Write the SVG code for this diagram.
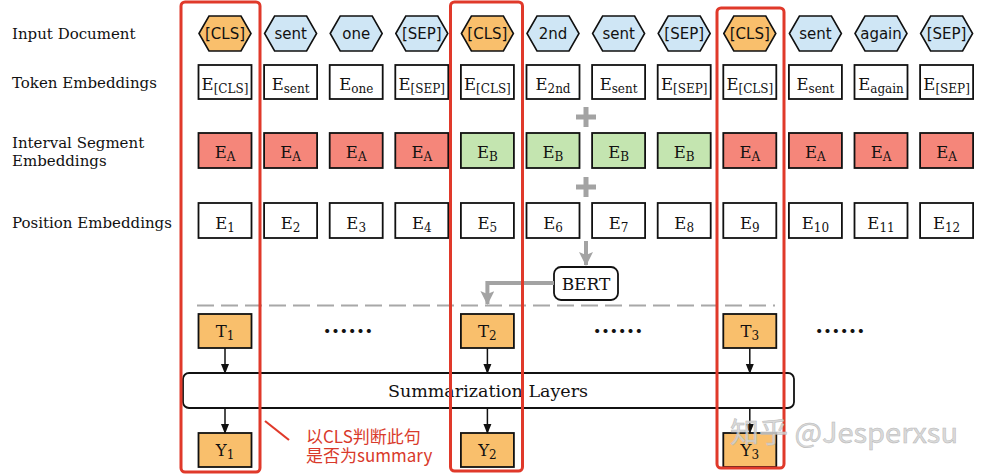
<svg xmlns="http://www.w3.org/2000/svg" width="984" height="476" viewBox="0 0 984 476">
<style>
.lbl{font-family:"DejaVu Serif",serif;font-size:15px;fill:#111}
.hx{stroke:#111;stroke-width:1.6}
.blue{fill:#cfe6f5}.org{fill:#f9bf6c}
.ht{font-family:"DejaVu Sans",sans-serif;font-size:15px;fill:#111;text-anchor:middle}
.bx{stroke:#111;stroke-width:1.8}
.w{fill:#fff}.ea{fill:#f5867a}.eb{fill:#c4e5b0}
.et{font-family:"DejaVu Serif",serif;font-size:16.5px;fill:#111;text-anchor:middle}
.sub{font-size:12px}
.frame{fill:none;stroke:#e0392a;stroke-width:3}
.gray{stroke:#a3a3a3;stroke-width:4;fill:none}
.blk{stroke:#111;stroke-width:1.5;fill:none}
.dots{font-family:"Noto Sans CJK SC",sans-serif;font-size:25px;font-weight:bold;fill:#111;text-anchor:middle}
</style>
<defs>
<marker id="ab" markerUnits="userSpaceOnUse" markerWidth="10" markerHeight="10" viewBox="0 0 10 10" refX="9" refY="5" orient="auto"><path d="M0,1 L10,5 L0,9 Z" fill="#111"/></marker>
<marker id="ag" markerUnits="userSpaceOnUse" markerWidth="14" markerHeight="14" viewBox="0 0 14 14" refX="13" refY="7" orient="auto"><path d="M0,0 L14,7 L0,14 L3,7 Z" fill="#a3a3a3"/></marker>
<path id="hex" d="M-26,0 L-16,-17.5 L16,-17.5 L26,0 L16,17.5 L-16,17.5 Z"/>
</defs>

<g id="labels">
<text class="lbl" x="12" y="39">Input Document</text>
<text class="lbl" x="12" y="88">Token Embeddings</text>
<text class="lbl" x="12" y="148">Interval Segment</text>
<text class="lbl" x="12" y="166">Embeddings</text>
<text class="lbl" x="12" y="228">Position Embeddings</text>
</g>

<g id="input-tokens">
<g id="in1"><use href="#hex" x="225" y="33.5" class="hx org"/><text class="ht" x="225" y="39">[CLS]</text></g>
<g id="in2"><use href="#hex" x="290.6" y="33.5" class="hx blue"/><text class="ht" x="290.6" y="39">sent</text></g>
<g id="in3"><use href="#hex" x="356.2" y="33.5" class="hx blue"/><text class="ht" x="356.2" y="39">one</text></g>
<g id="in4"><use href="#hex" x="421.8" y="33.5" class="hx blue"/><text class="ht" x="421.8" y="39">[SEP]</text></g>
<g id="in5"><use href="#hex" x="487.4" y="33.5" class="hx org"/><text class="ht" x="487.4" y="39">[CLS]</text></g>
<g id="in6"><use href="#hex" x="553" y="33.5" class="hx blue"/><text class="ht" x="553" y="39">2nd</text></g>
<g id="in7"><use href="#hex" x="618.6" y="33.5" class="hx blue"/><text class="ht" x="618.6" y="39">sent</text></g>
<g id="in8"><use href="#hex" x="684.2" y="33.5" class="hx blue"/><text class="ht" x="684.2" y="39">[SEP]</text></g>
<g id="in9"><use href="#hex" x="749.8" y="33.5" class="hx org"/><text class="ht" x="749.8" y="39">[CLS]</text></g>
<g id="in10"><use href="#hex" x="815.4" y="33.5" class="hx blue"/><text class="ht" x="815.4" y="39">sent</text></g>
<g id="in11"><use href="#hex" x="881" y="33.5" class="hx blue"/><text class="ht" x="881" y="39">again</text></g>
<g id="in12"><use href="#hex" x="946.6" y="33.5" class="hx blue"/><text class="ht" x="946.6" y="39">[SEP]</text></g>
</g>

<g id="token-emb">
<g id="tk1"><rect class="bx w" x="198.5" y="65" width="53" height="34"/><text class="et" x="225" y="90">E<tspan class="sub" dy="3">[CLS]</tspan></text></g>
<g id="tk2"><rect class="bx w" x="264.1" y="65" width="53" height="34"/><text class="et" x="290.6" y="90">E<tspan class="sub" dy="3">sent</tspan></text></g>
<g id="tk3"><rect class="bx w" x="329.7" y="65" width="53" height="34"/><text class="et" x="356.2" y="90">E<tspan class="sub" dy="3">one</tspan></text></g>
<g id="tk4"><rect class="bx w" x="395.3" y="65" width="53" height="34"/><text class="et" x="421.8" y="90">E<tspan class="sub" dy="3">[SEP]</tspan></text></g>
<g id="tk5"><rect class="bx w" x="460.9" y="65" width="53" height="34"/><text class="et" x="487.4" y="90">E<tspan class="sub" dy="3">[CLS]</tspan></text></g>
<g id="tk6"><rect class="bx w" x="526.5" y="65" width="53" height="34"/><text class="et" x="553" y="90">E<tspan class="sub" dy="3">2nd</tspan></text></g>
<g id="tk7"><rect class="bx w" x="592.1" y="65" width="53" height="34"/><text class="et" x="618.6" y="90">E<tspan class="sub" dy="3">sent</tspan></text></g>
<g id="tk8"><rect class="bx w" x="657.7" y="65" width="53" height="34"/><text class="et" x="684.2" y="90">E<tspan class="sub" dy="3">[SEP]</tspan></text></g>
<g id="tk9"><rect class="bx w" x="723.3" y="65" width="53" height="34"/><text class="et" x="749.8" y="90">E<tspan class="sub" dy="3">[CLS]</tspan></text></g>
<g id="tk10"><rect class="bx w" x="788.9" y="65" width="53" height="34"/><text class="et" x="815.4" y="90">E<tspan class="sub" dy="3">sent</tspan></text></g>
<g id="tk11"><rect class="bx w" x="854.5" y="65" width="53" height="34"/><text class="et" x="881" y="90">E<tspan class="sub" dy="3">again</tspan></text></g>
<g id="tk12"><rect class="bx w" x="920.1" y="65" width="53" height="34"/><text class="et" x="946.6" y="90">E<tspan class="sub" dy="3">[SEP]</tspan></text></g>
</g>

<g id="segment-emb">
<g id="sg1"><rect class="bx ea" x="198.5" y="133" width="53" height="35"/><text class="et" x="225" y="158">E<tspan class="sub" dy="3">A</tspan></text></g>
<g id="sg2"><rect class="bx ea" x="264.1" y="133" width="53" height="35"/><text class="et" x="290.6" y="158">E<tspan class="sub" dy="3">A</tspan></text></g>
<g id="sg3"><rect class="bx ea" x="329.7" y="133" width="53" height="35"/><text class="et" x="356.2" y="158">E<tspan class="sub" dy="3">A</tspan></text></g>
<g id="sg4"><rect class="bx ea" x="395.3" y="133" width="53" height="35"/><text class="et" x="421.8" y="158">E<tspan class="sub" dy="3">A</tspan></text></g>
<g id="sg5"><rect class="bx eb" x="460.9" y="133" width="53" height="35"/><text class="et" x="487.4" y="158">E<tspan class="sub" dy="3">B</tspan></text></g>
<g id="sg6"><rect class="bx eb" x="526.5" y="133" width="53" height="35"/><text class="et" x="553" y="158">E<tspan class="sub" dy="3">B</tspan></text></g>
<g id="sg7"><rect class="bx eb" x="592.1" y="133" width="53" height="35"/><text class="et" x="618.6" y="158">E<tspan class="sub" dy="3">B</tspan></text></g>
<g id="sg8"><rect class="bx eb" x="657.7" y="133" width="53" height="35"/><text class="et" x="684.2" y="158">E<tspan class="sub" dy="3">B</tspan></text></g>
<g id="sg9"><rect class="bx ea" x="723.3" y="133" width="53" height="35"/><text class="et" x="749.8" y="158">E<tspan class="sub" dy="3">A</tspan></text></g>
<g id="sg10"><rect class="bx ea" x="788.9" y="133" width="53" height="35"/><text class="et" x="815.4" y="158">E<tspan class="sub" dy="3">A</tspan></text></g>
<g id="sg11"><rect class="bx ea" x="854.5" y="133" width="53" height="35"/><text class="et" x="881" y="158">E<tspan class="sub" dy="3">A</tspan></text></g>
<g id="sg12"><rect class="bx ea" x="920.1" y="133" width="53" height="35"/><text class="et" x="946.6" y="158">E<tspan class="sub" dy="3">A</tspan></text></g>
</g>

<g id="position-emb">
<g id="ps1"><rect class="bx w" x="198.5" y="203" width="53" height="35"/><text class="et" x="225" y="229">E<tspan class="sub" dy="3">1</tspan></text></g>
<g id="ps2"><rect class="bx w" x="264.1" y="203" width="53" height="35"/><text class="et" x="290.6" y="229">E<tspan class="sub" dy="3">2</tspan></text></g>
<g id="ps3"><rect class="bx w" x="329.7" y="203" width="53" height="35"/><text class="et" x="356.2" y="229">E<tspan class="sub" dy="3">3</tspan></text></g>
<g id="ps4"><rect class="bx w" x="395.3" y="203" width="53" height="35"/><text class="et" x="421.8" y="229">E<tspan class="sub" dy="3">4</tspan></text></g>
<g id="ps5"><rect class="bx w" x="460.9" y="203" width="53" height="35"/><text class="et" x="487.4" y="229">E<tspan class="sub" dy="3">5</tspan></text></g>
<g id="ps6"><rect class="bx w" x="526.5" y="203" width="53" height="35"/><text class="et" x="553" y="229">E<tspan class="sub" dy="3">6</tspan></text></g>
<g id="ps7"><rect class="bx w" x="592.1" y="203" width="53" height="35"/><text class="et" x="618.6" y="229">E<tspan class="sub" dy="3">7</tspan></text></g>
<g id="ps8"><rect class="bx w" x="657.7" y="203" width="53" height="35"/><text class="et" x="684.2" y="229">E<tspan class="sub" dy="3">8</tspan></text></g>
<g id="ps9"><rect class="bx w" x="723.3" y="203" width="53" height="35"/><text class="et" x="749.8" y="229">E<tspan class="sub" dy="3">9</tspan></text></g>
<g id="ps10"><rect class="bx w" x="788.9" y="203" width="53" height="35"/><text class="et" x="815.4" y="229">E<tspan class="sub" dy="3">10</tspan></text></g>
<g id="ps11"><rect class="bx w" x="854.5" y="203" width="53" height="35"/><text class="et" x="881" y="229">E<tspan class="sub" dy="3">11</tspan></text></g>
<g id="ps12"><rect class="bx w" x="920.1" y="203" width="53" height="35"/><text class="et" x="946.6" y="229">E<tspan class="sub" dy="3">12</tspan></text></g>
</g>

<g id="plus-signs" fill="#a3a3a3">
<rect x="576" y="114.5" width="20" height="5"/><rect x="583.5" y="107" width="5" height="20"/>
<rect x="576" y="184.5" width="20" height="5"/><rect x="583.5" y="177" width="5" height="20"/>
</g>

<g id="bert"><rect x="554" y="267" width="64" height="33" rx="7" fill="#fff" stroke="#111" stroke-width="1.8"/><text class="et" x="586" y="290" style="font-size:17px">BERT</text></g>

<g id="divider"><line x1="197" y1="305.5" x2="775" y2="305.5" stroke="#a8a8a8" stroke-width="2" stroke-dasharray="17,7"/></g>

<g id="t-nodes">
<g id="t1"><rect class="bx org" x="198.5" y="314" width="53" height="34"/><text class="et" x="225" y="337">T<tspan class="sub" dy="3">1</tspan></text></g>
<g id="t2"><rect class="bx org" x="460.9" y="314" width="53" height="34"/><text class="et" x="487.4" y="337">T<tspan class="sub" dy="3">2</tspan></text></g>
<g id="t3"><rect class="bx org" x="723.3" y="314" width="53" height="34"/><text class="et" x="749.8" y="337">T<tspan class="sub" dy="3">3</tspan></text></g>
</g>

<g id="ellipses">
<text class="dots" x="348" y="341">……</text>
<text class="dots" x="618" y="341">……</text>
<text class="dots" x="840" y="341">……</text>
</g>

<g id="summarization"><rect x="183" y="373" width="611" height="35" rx="6" fill="#fff" stroke="#111" stroke-width="1.8"/><text class="et" x="488" y="397" style="font-size:17.5px">Summarization Layers</text></g>

<g id="y-nodes">
<g id="y1"><rect class="bx org" x="198.5" y="433" width="53" height="34"/><text class="et" x="225" y="456">Y<tspan class="sub" dy="3">1</tspan></text></g>
<g id="y2"><rect class="bx org" x="460.9" y="433" width="53" height="34"/><text class="et" x="487.4" y="456">Y<tspan class="sub" dy="3">2</tspan></text></g>
<g id="y3"><rect class="bx org" x="723.3" y="433" width="53" height="34"/><text class="et" x="749.8" y="456">Y<tspan class="sub" dy="3">3</tspan></text></g>
</g>

<g id="connectors">
<line class="gray" x1="586" y1="241" x2="586" y2="265" marker-end="url(#ag)"/>
<polyline class="gray" points="554,283 487.4,283 487.4,304" marker-end="url(#ag)"/>
<line class="blk" x1="225" y1="348" x2="225" y2="373" marker-end="url(#ab)"/>
<line class="blk" x1="487.4" y1="348" x2="487.4" y2="373" marker-end="url(#ab)"/>
<line class="blk" x1="749.8" y1="348" x2="749.8" y2="373" marker-end="url(#ab)"/>
<line class="blk" x1="225" y1="408" x2="225" y2="433" marker-end="url(#ab)"/>
<line class="blk" x1="487.4" y1="408" x2="487.4" y2="433" marker-end="url(#ab)"/>
<line class="blk" x1="749.8" y1="408" x2="749.8" y2="433" marker-end="url(#ab)"/>
</g>

<g id="highlights">
<rect class="frame" x="181" y="2" width="79" height="470" rx="4"/>
<rect class="frame" x="450.5" y="2" width="72" height="469" rx="4"/>
<rect class="frame" x="717" y="8" width="67" height="460" rx="4"/>
</g>

<g id="annotation">
<line x1="265" y1="421" x2="289" y2="440" stroke="#e0392a" stroke-width="2.2"/>
<text x="306" y="443" style="font-family:'Noto Sans CJK SC',sans-serif;font-size:17px;fill:#d93a2b">以CLS判断此句</text>
<text x="306" y="462" style="font-family:'Noto Sans CJK SC',sans-serif;font-size:17px;fill:#d93a2b">是否为summary</text>
</g>

<g id="watermark">
<text x="730" y="443" textLength="228" lengthAdjust="spacingAndGlyphs" style="font-family:'Noto Sans CJK SC',sans-serif;font-size:28px;fill:#d4d4d4;fill-opacity:0.85;stroke:#b8b8b8;stroke-width:0.5">知乎 @Jesperxsu</text>
</g>
</svg>
